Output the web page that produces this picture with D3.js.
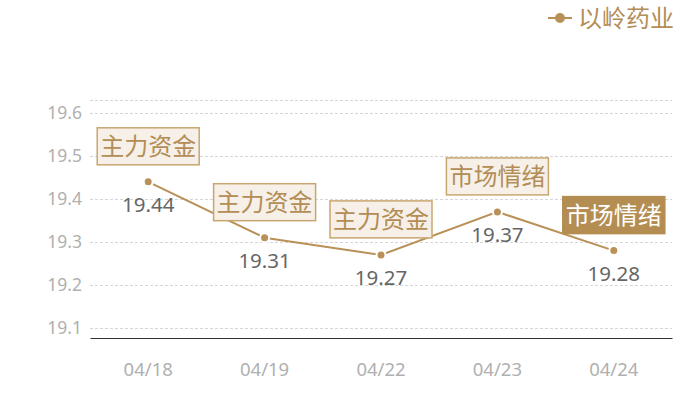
<!DOCTYPE html>
<html><head><meta charset="utf-8">
<script src="https://cdn.jsdelivr.net/npm/d3@7"></script>
<style>body{margin:0;background:#fff;font-family:"Noto Sans CJK SC","Noto Sans",sans-serif;}</style>
</head><body><svg id="c" width="700" height="400"></svg>
<script>
const categories = ["04/18","04/19","04/22","04/23","04/24"];
const values = [19.44, 19.31, 19.27, 19.37, 19.28];
const tags = ["主力资金","主力资金","主力资金","市场情绪","市场情绪"];
const highlighted = [false,false,false,false,true];
const yTicks = [19.1,19.2,19.3,19.4,19.5,19.6];
const seriesName = "以岭药业";

const gold = "#b99157";
const svg = d3.select("#c");
const x = d3.scaleBand().domain(categories).range([90,672]);
const y = d3.scaleLinear().domain([19.1,19.6]).range([328,113]);
const yBottom = 338, yTop = 100;

// grid
const grid = svg.append("g");
grid.selectAll("line.g").data(yTicks).enter().append("line")
  .attr("x1",90).attr("x2",672).attr("y1",d=>y(d)).attr("y2",d=>y(d))
  .attr("stroke","#d6d6d6").attr("stroke-dasharray","3,2").attr("stroke-width",1).attr("shape-rendering","crispEdges");
grid.append("line").attr("x1",90).attr("x2",672).attr("y1",yTop).attr("y2",yTop)
  .attr("stroke","#d6d6d6").attr("stroke-dasharray","3,2").attr("shape-rendering","crispEdges");

// y axis labels
const yAxis = d3.axisLeft(y).tickValues(yTicks).tickFormat(d3.format(".1f")).tickSize(0).tickPadding(8);
const ya = svg.append("g").attr("transform","translate(90,0)").call(yAxis);
ya.select(".domain").remove();
ya.selectAll("text").attr("fill","#b0b0b0").attr("font-size",17.5).attr("font-family","'Noto Sans',sans-serif");

// x axis
const xAxis = d3.axisBottom(x).tickSize(0).tickPadding(25);
const xa = svg.append("g").attr("transform",`translate(0,${yBottom})`).call(xAxis);
xa.select(".domain").attr("stroke","#333").attr("stroke-width",1.2);
xa.selectAll("text").attr("fill","#b0b0b0").attr("font-size",18.5).attr("font-family","'Noto Sans',sans-serif");

const cx = d=>x(d)+x.bandwidth()/2;
const data = categories.map((c,i)=>({c,v:values[i],t:tags[i],h:highlighted[i]}));

// line
svg.append("path").datum(data)
  .attr("d",d3.line().x(d=>cx(d.c)).y(d=>y(d.v)))
  .attr("fill","none").attr("stroke",gold).attr("stroke-width",2);

svg.selectAll("circle.p").data(data).enter().append("circle")
  .attr("cx",d=>cx(d.c)).attr("cy",d=>y(d.v)).attr("r",4.5)
  .attr("fill",gold).attr("stroke","#fff").attr("stroke-width",2);

// value labels
svg.selectAll("text.v").data(data).enter().append("text")
  .attr("x",d=>cx(d.c)).attr("y",d=>y(d.v)+30)
  .attr("text-anchor","middle").attr("fill","#666").attr("font-size",20.5)
  .attr("font-family","'Noto Sans',sans-serif").text(d=>d.v.toFixed(2));

// tag boxes
const tg = svg.selectAll("g.tag").data(data).enter().append("g")
  .attr("transform",d=>`translate(${cx(d.c)},${y(d.v)-17})`);
tg.append("rect").attr("x",-51).attr("y",-37).attr("width",102).attr("height",37)
  .attr("fill",d=>d.h?"#b48d52":"#f6f0e8").attr("stroke",d=>d.h?"#b48d52":"#c9a671").attr("stroke-width",1.5);
tg.append("text").attr("x",0).attr("y",-10).attr("text-anchor","middle")
  .attr("font-size",24).attr("fill",d=>d.h?"#fff":"#b38d55").text(d=>d.t);

// legend
const lg = svg.append("g");
lg.append("line").attr("x1",548).attr("x2",572).attr("y1",18).attr("y2",18).attr("stroke",gold).attr("stroke-width",2);
lg.append("circle").attr("cx",560).attr("cy",18).attr("r",5).attr("fill",gold);
lg.append("text").attr("x",578).attr("y",27).attr("font-size",24).attr("fill","#b38d55").text(seriesName);
</script></body></html>
